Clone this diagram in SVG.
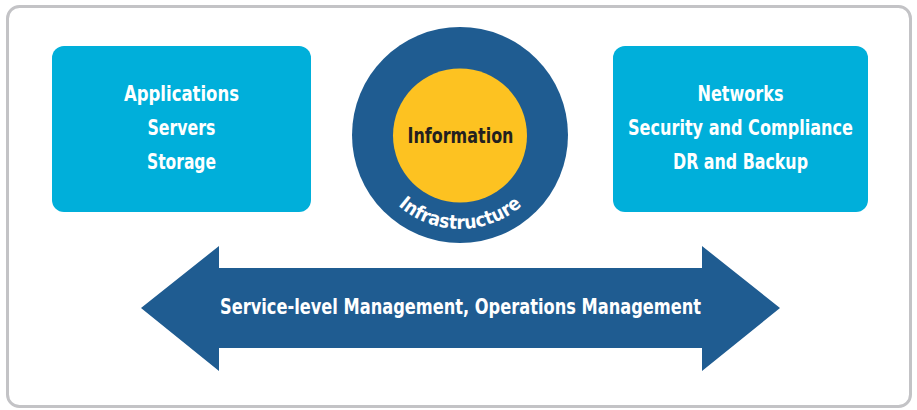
<svg xmlns="http://www.w3.org/2000/svg" xmlns:xlink="http://www.w3.org/1999/xlink" width="917" height="410" viewBox="0 0 917 410">
<style>
.box{fill:#00afda}
.t{font-family:"DejaVu Sans Condensed","DejaVu Sans",sans-serif;font-weight:bold;font-stretch:condensed;fill:#fff;text-anchor:middle;font-size:21px}
.dark{fill:#231f20}
</style>
<defs>
<path id="arc" d="M 366,135 A 94,94 0 0 0 554,135"/>
</defs>
<rect x="7.5" y="6.5" width="903" height="400" rx="12" fill="#fff" stroke="#c3c3c6" stroke-width="3"/>
<g id="left-box">
<rect class="box" x="52" y="46" width="259" height="166" rx="12"/>
<text class="t" x="181.5" y="101" textLength="115" lengthAdjust="spacingAndGlyphs">Applications</text>
<text class="t" x="181.5" y="135" textLength="68" lengthAdjust="spacingAndGlyphs">Servers</text>
<text class="t" x="181.5" y="169" textLength="69" lengthAdjust="spacingAndGlyphs">Storage</text>
</g>
<g id="right-box">
<rect class="box" x="613" y="46" width="255" height="166" rx="12"/>
<text class="t" x="740.5" y="101" textLength="86" lengthAdjust="spacingAndGlyphs">Networks</text>
<text class="t" x="740.5" y="135" textLength="225" lengthAdjust="spacingAndGlyphs">Security and Compliance</text>
<text class="t" x="740.5" y="169" textLength="135" lengthAdjust="spacingAndGlyphs">DR and Backup</text>
</g>
<g id="infrastructure">
<circle cx="460" cy="135" r="108" fill="#1f5c91"/>
<text class="t" style="font-size:19px"><textPath xlink:href="#arc" href="#arc" startOffset="50%">Infrastructure</textPath></text>
</g>
<g id="information">
<circle cx="460" cy="135.5" r="67" fill="#fdc221"/>
<text class="t dark" x="460.5" y="143" textLength="106" lengthAdjust="spacingAndGlyphs" style="font-size:22px">Information</text>
</g>
<g id="connectors">
<g id="management-arrow">
<polygon points="141,308 219,246 219,268 702,268 702,246 780,308 702,371 702,348 219,348 219,371" fill="#1f5c91"/>
<text class="t" x="460.5" y="314" textLength="481" lengthAdjust="spacingAndGlyphs">Service-level Management, Operations Management</text>
</g>
</g>
</svg>
